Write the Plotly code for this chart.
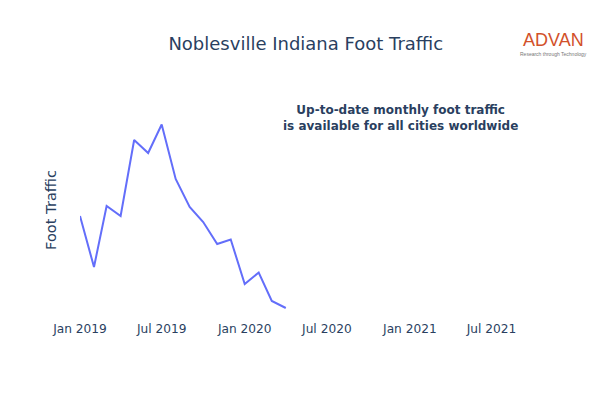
import pandas as pd
import plotly.graph_objects as go

# monthly foot traffic (y axis has no scale, so units are relative)
months = pd.date_range("2019-01-01", "2020-04-01", freq="MS")
foot_traffic = [104, 53, 114, 104, 180, 167, 195.5, 141, 113, 98, 76, 80.5, 36, 47.5, 19, 12]

tick_dates = ["2019-01-01", "2019-07-01", "2020-01-01", "2020-07-01", "2021-01-01", "2021-07-01"]
tick_labels = ["Jan 2019", "Jul 2019", "Jan 2020", "Jul 2020", "Jan 2021", "Jul 2021"]

FONT = "DejaVu Sans, Verdana, sans-serif"
NAVY = "#2a3f5f"

fig = go.Figure()
fig.add_scatter(x=months, y=foot_traffic, mode="lines", line=dict(color="#636efa", width=2))

fig.update_layout(
    width=592,
    height=392,
    template="none",
    showlegend=False,
    font=dict(family=FONT, color=NAVY),
    margin=dict(l=72, r=80, t=92, b=80),
    paper_bgcolor="white",
    plot_bgcolor="white",
    title=dict(text="Noblesville Indiana Foot Traffic", x=0.503, xanchor="center", y=0.908, yanchor="middle",
               font=dict(size=18)),
)
fig.update_xaxes(
    range=["2019-01-01", "2021-09-02"],
    tickvals=tick_dates,
    ticktext=tick_labels,
    tickfont=dict(size=12.2),
    showgrid=False,
    zeroline=False,
    showline=False,
    ticks="",
)
fig.update_yaxes(
    range=[0, 220],
    showticklabels=False,
    showgrid=False,
    zeroline=False,
    showline=False,
    ticks="",
    title=dict(text="Foot Traffic", font=dict(size=14.6), standoff=18),
)

# callout
fig.add_annotation(
    text="<b>Up-to-date monthly foot traffic<br>is available for all cities worldwide</b>",
    xref="paper", yref="paper", x=0.7295, y=0.92, xanchor="center", yanchor="middle",
    showarrow=False, font=dict(size=12, color=NAVY),
)
# logo, drawn as text
fig.add_annotation(
    text="ADVAN", xref="paper", yref="paper", x=1.075, y=1.272, xanchor="center", yanchor="middle",
    showarrow=False, font=dict(size=18, color="#d2512a", family="Liberation Sans"),
)
fig.add_annotation(
    text="Research through Technology", xref="paper", yref="paper", x=1.075, y=1.207,
    xanchor="center", yanchor="middle", showarrow=False,
    font=dict(size=5, color="#777777", family="Liberation Sans"),
)

fig.write_html("out.html")
